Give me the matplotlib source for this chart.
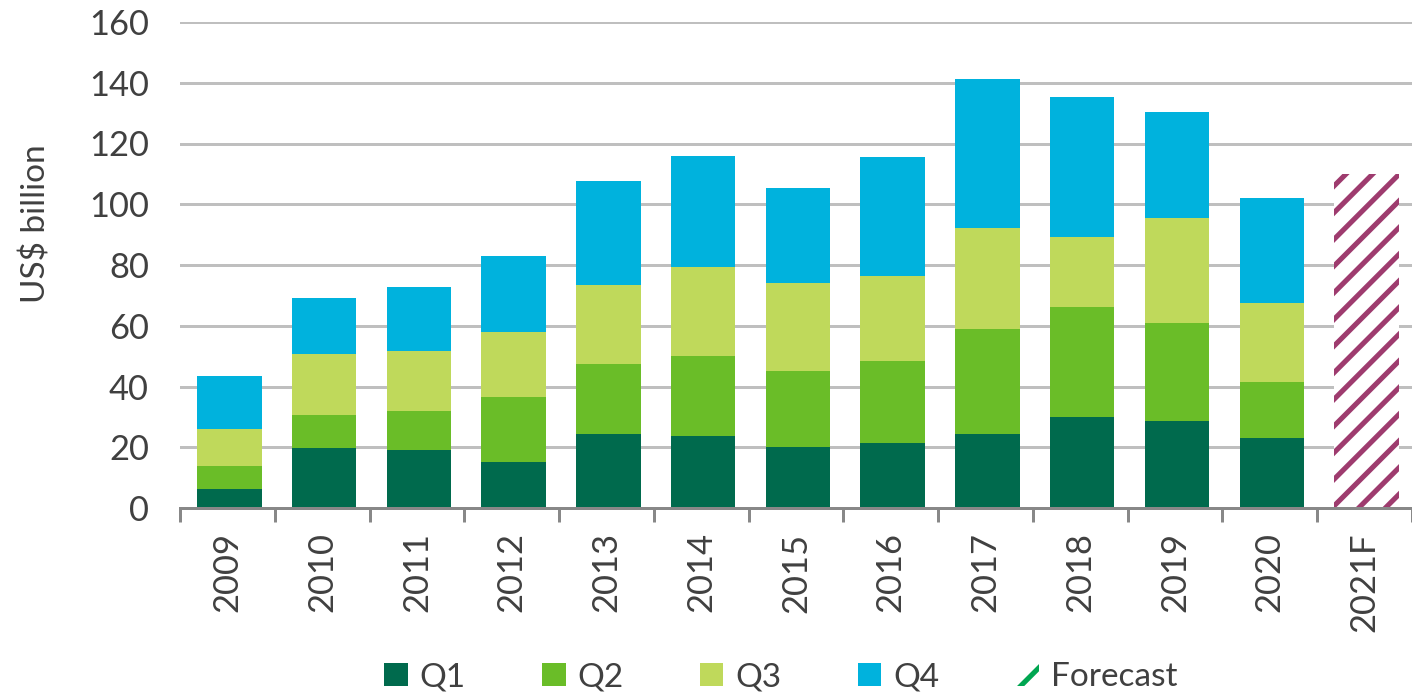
import numpy as np
import matplotlib.pyplot as plt
from matplotlib.patches import Patch

years = ['2009', '2010', '2011', '2012', '2013', '2014', '2015', '2016',
         '2017', '2018', '2019', '2020', '2021F']
q1 = [6.2, 19.6, 19.0, 15.1, 24.5, 23.6, 20.2, 21.3, 24.4, 29.9, 28.6, 23.1]
q2 = [7.7, 11.1, 13.0, 21.4, 22.8, 26.6, 24.8, 27.0, 34.4, 36.4, 32.2, 18.5]
q3 = [12.1, 19.9, 19.6, 21.6, 26.1, 29.3, 29.1, 28.1, 33.5, 22.8, 34.6, 26.0]
q4 = [17.5, 18.4, 21.2, 24.9, 34.4, 36.3, 31.2, 39.2, 49.0, 46.1, 35.0, 34.3]
forecast = [110]

quarter_colors = {'Q1': '#006A4D', 'Q2': '#6ABD28', 'Q3': '#BFD95B', 'Q4': '#00B2DD'}
hatch_color = '#9E3B6E'
text_color = '#404040'

plt.rcParams['font.family'] = ['Lato', 'DejaVu Sans']
plt.rcParams['hatch.linewidth'] = 2.3

fig = plt.figure(figsize=(1412 / 160, 696 / 160), dpi=160)
ax = fig.add_axes([180 / 1412, 188 / 696, 1232 / 1412, 486 / 696])

x = np.arange(len(years))
n = len(q1)
width = 0.68
bottom = np.zeros(n)
for name, vals in zip(['Q1', 'Q2', 'Q3', 'Q4'], [q1, q2, q3, q4]):
    ax.bar(x[:n] + 0.02, vals, width, bottom=bottom, color=quarter_colors[name],
           linewidth=0, zorder=2)
    bottom += np.array(vals)

ax.bar(x[n:] + 0.02, forecast, width, facecolor='white', edgecolor=hatch_color,
       hatch='//', linewidth=0, zorder=2)

ax.set_xlim(-0.5, len(years) - 0.5)
ax.set_ylim(0, 160)
ax.set_yticks(range(0, 161, 20))
ax.grid(axis='y', color='#BFBFBF', linewidth=1.35)
ax.set_axisbelow(True)

for s in ['top', 'right', 'left']:
    ax.spines[s].set_visible(False)
ax.spines['bottom'].set_color('#888888')
ax.spines['bottom'].set_linewidth(1.35)

ax.set_xticks(x)
ax.set_xticklabels(years, rotation=90)
ax.set_xticks(np.arange(-0.5, len(years), 1), minor=True)
ax.tick_params(axis='x', which='major', length=0, pad=11, labelsize=15.5,
               labelcolor=text_color)
ax.tick_params(axis='x', which='minor', length=6.3, width=1.35, color='#888888')
ax.tick_params(axis='y', length=0, pad=14, labelsize=15.5, labelcolor=text_color)

ax.set_ylabel('US$ billion', fontsize=15, color=text_color)
ax.yaxis.set_label_coords(-0.104, 0.584)

handles = [Patch(facecolor=quarter_colors[k], linewidth=0) for k in ['Q1', 'Q2', 'Q3', 'Q4']]
handles.append(Patch(facecolor='white', edgecolor='#00A651', hatch='/', linewidth=0))
fig.legend(handles, ['Q1', 'Q2', 'Q3', 'Q4', 'Forecast'], loc='center',
           bbox_to_anchor=(0.553, 0.027), ncol=5, frameon=False, fontsize=15,
           labelcolor=text_color, handlelength=0.7, handleheight=0.7,
           handletextpad=0.35, columnspacing=2.3)

fig.savefig('out.png', dpi=160)
